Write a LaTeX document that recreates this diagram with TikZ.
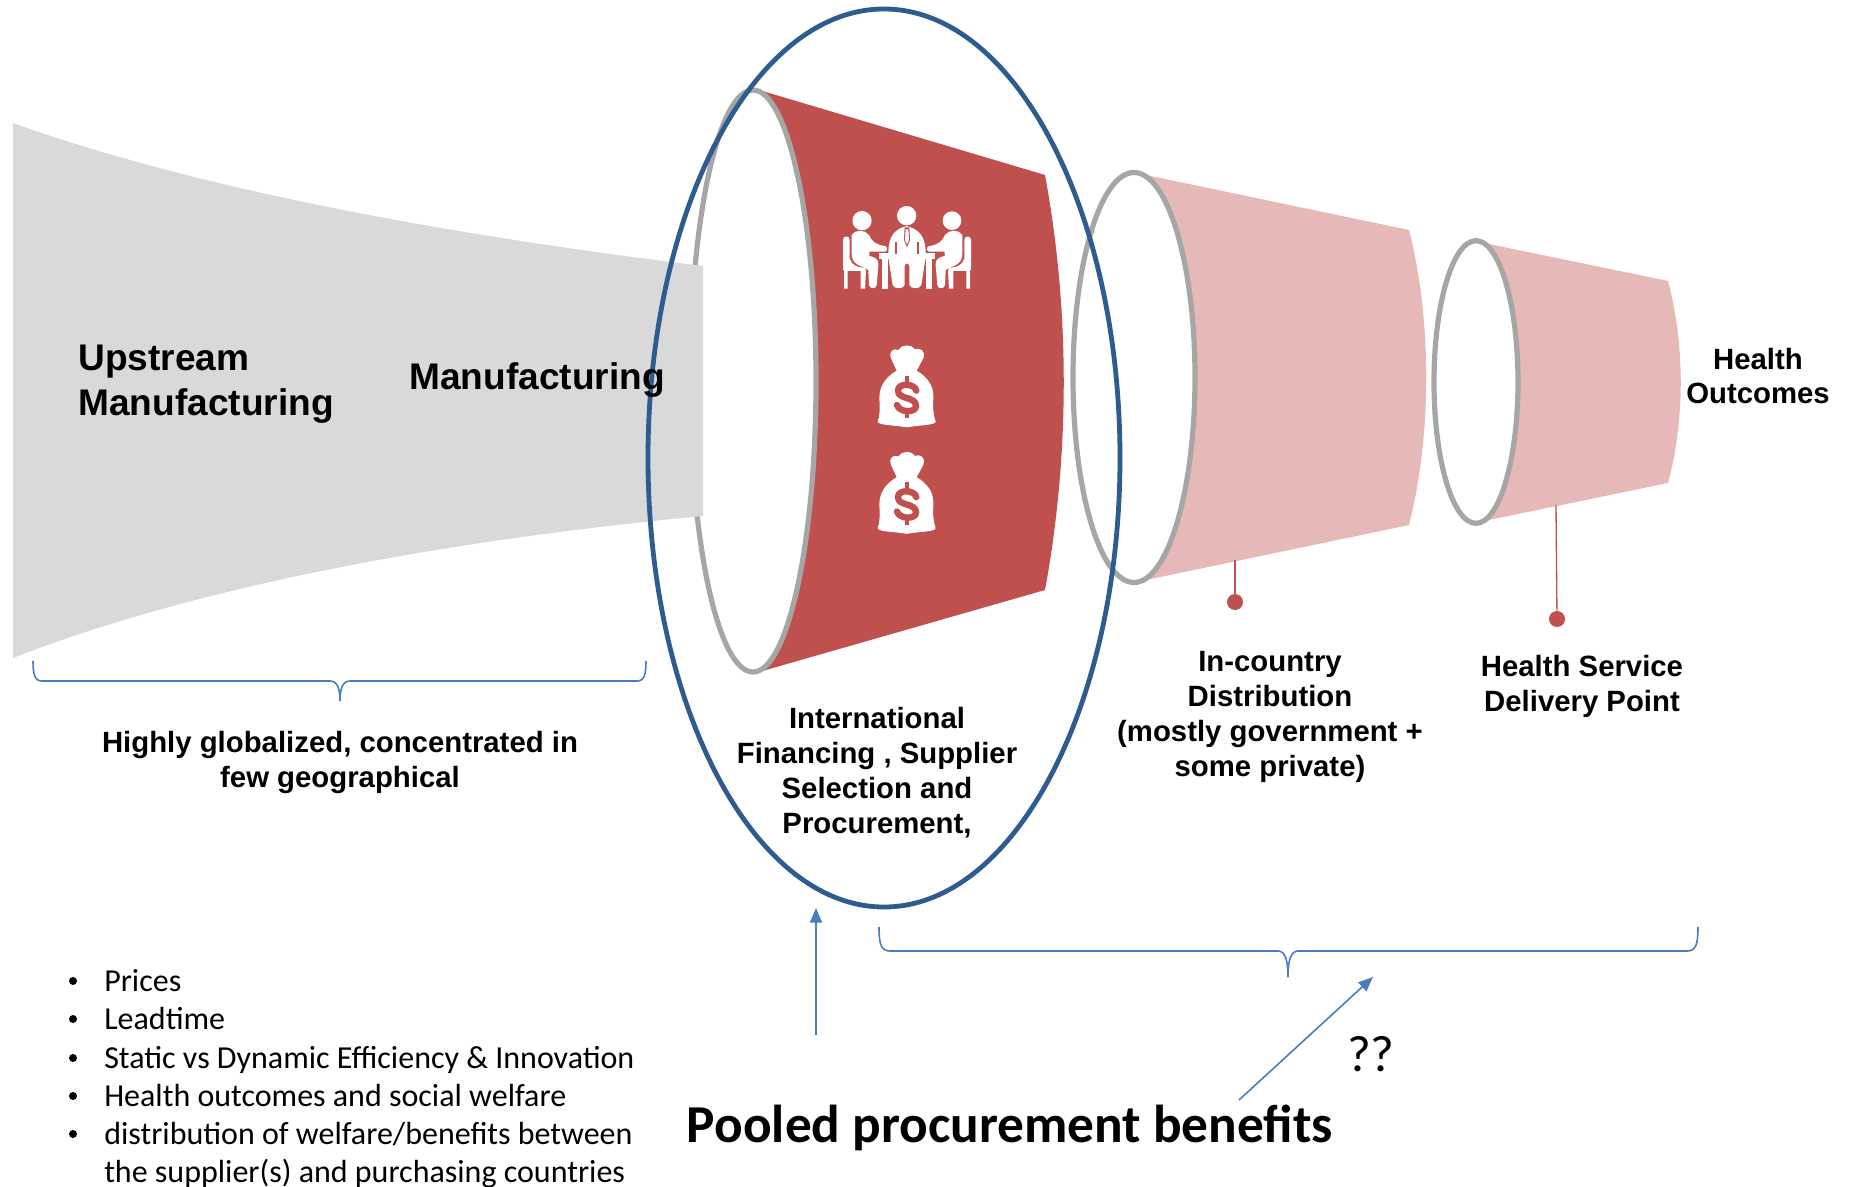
\documentclass[tikz,border=0pt]{standalone}
\usepackage{fontspec}
\setmainfont{Liberation Sans}
\newfontfamily\calib{Carlito}
\usetikzlibrary{shapes.geometric,arrows.meta}
\definecolor{cRed}{HTML}{C0504D}
\definecolor{cPink}{HTML}{E6B9B8}
\definecolor{cGrey}{HTML}{D9D9D9}
\definecolor{cRim}{HTML}{A6A6A6}
\definecolor{cRing}{HTML}{2F5C8F}
\definecolor{cArrow}{HTML}{4A7EBB}
\tikzset{
  rim/.style={ellipse,draw=cRim,fill=white,line width=3.9pt,inner sep=0pt,outer sep=0pt},
  ring/.style={ellipse,draw=cRing,line width=3.6pt,inner sep=0pt,outer sep=0pt},
  lbl/.style={font=\bfseries\fontsize{22}{26.2}\selectfont,align=center,inner sep=0pt},
  biglbl/.style={font=\bfseries\fontsize{27.8}{33.6}\selectfont,align=left,inner sep=0pt},
  bulletfont/.style={font=\calib\fontsize{24}{28.6}\selectfont,align=left,inner sep=0pt},
  bracket/.style={draw=cArrow,line width=1.2pt},
  upar/.style={draw=cArrow,line width=1.2pt,-{Triangle[length=11pt,width=9pt]}},
  stem/.style={draw=cRed,line width=1pt},
  dotn/.style={circle,fill=cRed,inner sep=0pt,minimum size=12pt},
  icon/.style={fill=white,draw=none},
  blt/.style={circle,fill=black,inner sep=0pt,minimum size=6pt},
}
\newcommand{\sideman}{%
  \fill[icon] (95,135) .. controls (105,118) and (135,118) .. (147,135) .. controls (155,155) and (170,165) .. (195,168) .. controls (203,170) and (203,184) .. (195,185) -- (148,185) -- (148,198) .. controls (170,203) and (176,210) .. (175,225) -- (170,285) .. controls (168,298) and (150,298) .. (147,285) -- (145,240) .. controls (120,225) and (95,225) .. (95,190) -- cycle;
  \fill[icon] (69,150) .. controls (69,136) and (89,136) .. (89,150) -- (89,205) .. controls (95,225) and (110,233) .. (135,233) -- (138,243) -- (135,296) -- (122,296) -- (122,243) -- (83,243) -- (83,296) -- (72,296) -- (72,240) -- (69,240) -- cycle;
}
\begin{document}
\begin{tikzpicture}[x=0.75pt,y=-0.75pt]
\useasboundingbox (0,0) rectangle (1850,1187);
% red funnel
\fill[cRed] (759,90) -- (1045,175) .. controls (1070,310) and (1070,455) .. (1045,590) -- (759,672) -- cycle;
\node[rim,minimum width=94.5pt,minimum height=436.5pt] (e1) at (753,381) {};
% pink funnels
\fill[cPink] (1146,175) -- (1409,230) .. controls (1432,320) and (1432,435) .. (1409,525) -- (1146,580) -- cycle;
\node[rim,minimum width=91.5pt,minimum height=307.5pt] (e2) at (1134,377.5) {};
\fill[cPink] (1484,243) -- (1668,281) .. controls (1685,345) and (1685,420) .. (1668,483) -- (1484,521) -- cycle;
\node[rim,minimum width=63pt,minimum height=212pt] (e3) at (1476,382) {};
% grey funnel
\fill[cGrey] (13,123) .. controls (200,190) and (450,235) .. (703,266) -- (703,516) .. controls (450,540) and (200,585) .. (13,658) -- cycle;
% icons: meeting
\begin{scope}[shift={(820,190)},x=0.25pt,y=-0.25pt]
  \fill[icon] (126,92) circle[radius=29pt*0.25];
  \fill[icon] (260,77) circle[radius=29pt*0.25];
  \fill[icon] (396,92) circle[radius=28pt*0.25];
  % table
  \fill[icon] (178,190) rectangle (345,208);
  \fill[icon] (187,208) rectangle (205,296);
  \fill[icon] (317,208) rectangle (335,296);
  % centre man
  \fill[cRed] (205,208) rectangle (317,296);
  \fill[icon] (205,185) .. controls (207,135) and (225,118) .. (260,108) .. controls (295,118) and (315,135) .. (317,185)
     -- (316,208) -- (304,285) .. controls (300,298) and (272,298) .. (268,285) -- (268,228) .. controls (266,218) and (256,218) .. (254,228) -- (254,285) .. controls (250,298) and (222,298) .. (218,285) -- (206,208) -- cycle;
  \fill[cRed] (254,112) -- (268,112) -- (270,150) -- (261,172) -- (252,150) -- cycle;
  \fill[icon] (257,118) -- (265,118) -- (267,150) -- (261,163) -- (255,150) -- cycle;
  \fill[cRed] (226,155) rectangle (230,192);
  \fill[cRed] (292,155) rectangle (296,192);
  % side men + chairs
  \sideman
  \begin{scope}[xscale=-1,xshift=-522*0.25pt]
  \sideman
  \end{scope}
\end{scope}
% icons: money bags
\foreach \dy in {0,106.5}{
\begin{scope}[shift={(820,190+\dy)},x=0.25pt,y=-0.25pt]
  \fill[icon] (235,480) .. controls (245,462) and (275,462) .. (285,478) .. controls (300,472) and (318,482) .. (310,505) -- (290,542) .. controls (320,560) and (342,585) .. (340,625) .. controls (338,655) and (340,675) .. (347,695) .. controls (345,706) and (300,705) .. (260,712) .. controls (220,705) and (175,706) .. (173,695) .. controls (180,675) and (180,655) .. (178,625) .. controls (178,585) and (200,560) .. (230,542) -- (213,505) .. controls (205,482) and (222,474) .. (235,480) -- cycle;
  \draw[cRed,line width=4.8pt,line cap=round] (289,602) .. controls (285,580) and (234,577) .. (234,602) .. controls (234,630) and (288,618) .. (288,648) .. controls (288,670) and (237,668) .. (231,645);
  \draw[cRed,line width=3.6pt] (261,558) -- (261,580) (261,664) -- (261,685);
\end{scope}
}
% blue ring
\node[ring,minimum width=354pt,minimum height=673.5pt] (ring) at (884,458) {};
% stems
\node[dotn] (d1) at (1235,602) {};
\coordinate (s1) at (1235,560);
\draw[stem] (s1) -- (d1);
\node[dotn] (d2) at (1557,619) {};
\coordinate (s2) at (1556,505);
\draw[stem] (s2) -- (d2);
% brackets
\draw[bracket] (33,661) .. controls (33,675) and (35,681) .. (42,681) -- (330,681) .. controls (337,681) and (340,688) .. (340,701);
\draw[bracket] (340,701) .. controls (340,688) and (343,681) .. (350,681) -- (637,681) .. controls (644,681) and (646,675) .. (646,661);
\draw[bracket] (879,927) .. controls (879,944) and (881,951) .. (890,951) -- (1278,951) .. controls (1285,951) and (1288,960) .. (1288,977);
\draw[bracket] (1288,977) .. controls (1288,960) and (1291,951) .. (1298,951) -- (1687,951) .. controls (1696,951) and (1698,944) .. (1698,927);
% arrows
\coordinate (a1s) at (816,1035); \coordinate (a1e) at (816,908);
\draw[upar] (a1s) -- (a1e);
\coordinate (a2s) at (1239,1100); \coordinate (a2e) at (1373,977);
\draw[upar] (a2s) -- (a2e);
% labels
\node[biglbl] (up) at (206,384.5) {Upstream\\Manufacturing};
\node[biglbl] (man) at (537,379.5) {Manufacturing};
\node[lbl] (glob) at (340,762.5) {Highly globalized, concentrated in\\few geographical};
\node[lbl] (intl) at (877,772.5) {International\\Financing , Supplier\\Selection and\\Procurement,};
\node[lbl] (ctry) at (1270,717) {In-country\\Distribution\\(mostly government +\\some private)};
\node[lbl] (hsdp) at (1582,686) {Health Service\\Delivery Point};
\node[lbl] (hout) at (1758,376) {Health\\Outcomes};
\foreach \i/\yy in {1/981,2/1019,3/1058,4/1096,5/1134}{\node[blt] (bul\i) at (73,\yy) {};}
\node[bulletfont,anchor=north west] (lst) at (104,969.5) {Prices\\Leadtime\\Static vs Dynamic Efficiency \& Innovation\\Health outcomes and social welfare\\distribution of welfare/benefits between\\the supplier(s) and purchasing countries};
\node[font=\calib\bfseries\fontsize{40}{48}\selectfont,inner sep=0pt] (pool) at (1010,1128) {Pooled procurement benefits};
\node[font=\calib\fontsize{38.5}{46}\selectfont,inner sep=0pt] (qq) at (1371,1054) {??};
\end{tikzpicture}
\end{document}
